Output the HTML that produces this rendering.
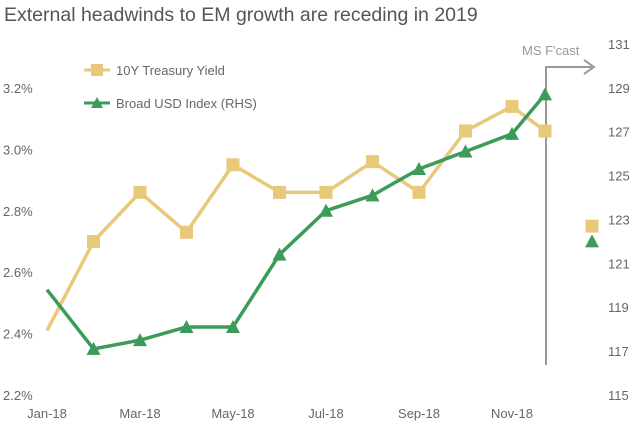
<!DOCTYPE html>
<html><head><meta charset="utf-8">
<style>
body{margin:0;background:#fff;font-family:"Liberation Sans",sans-serif;}
svg text{font-family:"Liberation Sans",sans-serif;}
</style></head>
<body>
<svg id="c" width="640" height="430">
<text x="4" y="21" font-size="19.5" fill="#555">External headwinds to EM growth are receding in 2019</text>
<g id="legend">
<rect x="91" y="64" width="12" height="12" fill="#e8c97a"/>
<line x1="84" y1="70" x2="110" y2="70" stroke="#e8c97a" stroke-width="3"/>
<text x="116" y="75" font-size="13" fill="#666">10Y Treasury Yield</text>
<line x1="84" y1="103" x2="110" y2="103" stroke="#3d9b5a" stroke-width="3"/>
<polygon points="97,97 103,108 91,108" fill="#3d9b5a"/>
<text x="116" y="108" font-size="13" fill="#666">Broad USD Index (RHS)</text>
</g>
<g>
<text x="522" y="55" font-size="13" fill="#999">MS F'cast</text>
<line x1="546" y1="66" x2="546" y2="365" stroke="#999" stroke-width="2"/>
<line x1="546" y1="67" x2="593" y2="67" stroke="#999" stroke-width="2"/>
<polyline points="584,60 594,67 584,74" fill="none" stroke="#999" stroke-width="2"/>
</g>
<g id="axes"></g>
<g id="series"></g>
</svg>
<script>
const months = ["Jan","Feb","Mar","Apr","May","Jun","Jul","Aug","Sep","Oct","Nov","Dec","F"];
const xTickLabels = ["Jan-18","Mar-18","May-18","Jul-18","Sep-18","Nov-18"];
const xTickIdx = [0,2,4,6,8,10];
const treasury = [2.41,2.70,2.86,2.73,2.95,2.86,2.86,2.96,2.86,3.06,3.14,3.06,2.75];
const usd = [119.8,117.1,117.5,118.1,118.1,121.4,123.4,124.1,125.3,126.1,126.9,128.7,122.0];
const leftTicks = [2.2,2.4,2.6,2.8,3.0,3.2];
const rightTicks = [115,117,119,121,123,125,127,129,131];

const NS="http://www.w3.org/2000/svg";
const X=i=> i===12 ? 592 : (i===11 ? 545 : 47+i*46.5);
const YL=v=>395-(v-2.2)*307;
const YR=v=>395-(v-115)*21.94;
const axes=document.getElementById('axes'), ser=document.getElementById('series');
function mk(tag,attrs,parent){const e=document.createElementNS(NS,tag);for(const k in attrs)e.setAttribute(k,attrs[k]);parent.appendChild(e);return e;}

leftTicks.forEach(v=>{
  const t=mk('text',{x:3,y:YL(v)+5,'font-size':13,fill:'#666'},axes);
  t.textContent=v.toFixed(1)+'%';
  
  
});
rightTicks.forEach(v=>{
  const t=mk('text',{x:608,y:YR(v)+5,'font-size':13,fill:'#666'},axes);
  t.textContent=v;
  
  
});
xTickIdx.forEach((i,k)=>{
  const t=mk('text',{x:X(i),y:418,'font-size':13,fill:'#666','text-anchor':'middle'},axes);
  t.textContent=xTickLabels[k];
  
  
});

function line(vals,f,col,name){
  const pts=vals.slice(0,12).map((v,i)=>X(i)+','+f(v)).join(' ');
  const p=mk('polyline',{points:pts,fill:'none',stroke:col,'stroke-width':3.5,'stroke-linejoin':'round'},ser);
  
  
}
line(treasury,YL,'#e8c97a','treasury-line');
line(usd,YR,'#3d9b5a','usd-line');
treasury.forEach((v,i)=>{
  if(i===0)return;
  const r=mk('rect',{x:X(i)-6.5,y:YL(v)-6.5,width:13,height:13,fill:'#e8c97a'},ser);
  
  
});
usd.forEach((v,i)=>{
  if(i===0)return;
  const x=X(i),y=YR(v);
  const p=mk('polygon',{points:`${x},${y-7} ${x+7},${y+6} ${x-7},${y+6}`,fill:'#3d9b5a'},ser);
  
  
});
</script>
</body></html>
